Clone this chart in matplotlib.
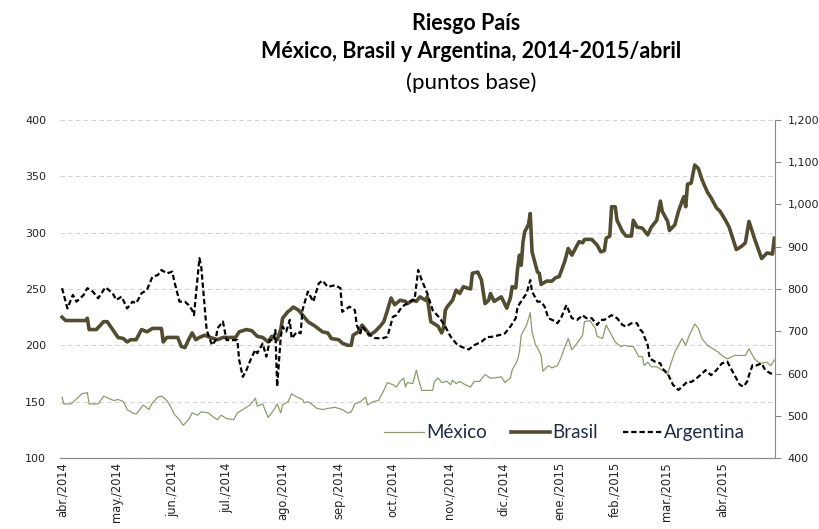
import matplotlib.pyplot as plt
import matplotlib.ticker as mticker
import pandas as pd

# Riesgo país (EMBI), puntos base. Fechas como días desde el 1-abr-2014
inicio = pd.Timestamp("2014-04-01")

dias_mexico = [0, 1, 5, 9, 11, 14, 15, 20, 23, 27,
               29, 31, 34, 36, 39, 41, 43, 45, 48, 50,
               53, 55, 58, 61, 62, 65, 67, 70, 72, 75,
               77, 81, 84, 86, 88, 91, 95, 97, 101, 104,
               107, 108, 111, 112, 114, 116, 118, 119, 121, 122,
               125, 127, 130, 133, 134, 136, 138, 141, 144, 147,
               151, 155, 158, 160, 162, 165, 168, 169, 172, 175,
               178, 180, 183, 185, 187, 189, 190, 191, 194, 196,
               197, 199, 202, 205, 206, 208, 210, 213, 215, 216,
               218, 220, 223, 226, 228, 231, 234, 237, 239, 243,
               245, 248, 249, 252, 253, 254, 257, 259, 260, 262,
               263, 265, 266, 269, 271, 274, 276, 278, 280, 282,
               285, 288, 289, 292, 295, 296, 299, 301, 303, 306,
               309, 311, 314, 316, 319, 321, 322, 324, 326, 329,
               332, 335, 336, 339, 343, 345, 347, 350, 352, 354,
               357, 360, 363, 365, 368, 372, 378, 380, 383, 386,
               390, 392, 394]
mexico = [154, 148, 148, 154, 157, 158, 148, 148, 155, 152,
          151, 152, 150, 143, 140, 139, 143, 147, 143, 149,
          154, 155, 151, 143, 139, 134, 129, 134, 140, 138,
          141, 140, 136, 134, 138, 135, 134, 140, 144, 147,
          153, 146, 148, 144, 136, 140, 145, 148, 140, 147,
          150, 157, 154, 152, 149, 150, 148, 144, 143, 144,
          145, 143, 140, 141, 148, 150, 154, 147, 150, 151,
          160, 167, 165, 163, 168, 171, 163, 167, 166, 178,
          171, 160, 160, 160, 168, 171, 167, 168, 165, 169,
          166, 168, 165, 163, 168, 168, 174, 171, 171, 172,
          167, 171, 178, 187, 194, 209, 218, 229, 212, 200,
          198, 191, 177, 182, 180, 182, 189, 198, 206, 196,
          202, 209, 221, 222, 215, 208, 206, 218, 212, 203,
          199, 200, 199, 199, 190, 190, 182, 185, 181, 181,
          178, 174, 180, 194, 206, 200, 209, 219, 215, 206,
          200, 197, 194, 191, 188, 191, 191, 197, 188, 184,
          185, 182, 187]

dias_brasil = [0, 2, 7, 13, 14, 15, 19, 23, 25, 28,
               31, 34, 36, 38, 41, 44, 47, 50, 55, 56,
               58, 61, 64, 66, 68, 70, 72, 74, 76, 79,
               82, 86, 89, 93, 96, 98, 102, 105, 108, 111,
               114, 116, 119, 121, 122, 125, 126, 128, 131, 133,
               136, 140, 144, 147, 149, 153, 155, 158, 160, 161,
               164, 166, 169, 170, 173, 176, 178, 180, 182, 184,
               187, 190, 191, 194, 196, 198, 201, 202, 204, 205,
               208, 210, 211, 212, 213, 216, 218, 220, 222, 226,
               227, 230, 232, 234, 236, 237, 239, 243, 246, 248,
               249, 251, 252, 253, 254, 255, 256, 258, 259, 260,
               263, 264, 265, 268, 271, 273, 275, 278, 280, 282,
               285, 286, 288, 289, 293, 296, 298, 300, 301, 303,
               304, 306, 307, 310, 312, 315, 316, 318, 321, 324,
               326, 329, 331, 332, 335, 336, 339, 341, 343, 344,
               345, 346, 348, 350, 352, 354, 357, 359, 362, 364,
               367, 369, 371, 373, 376, 378, 380, 383, 387, 390,
               393, 394]
brasil = [225, 222, 222, 222, 224, 214, 214, 221, 221, 214,
          207, 206, 203, 205, 205, 214, 212, 215, 215, 203,
          207, 207, 207, 199, 198, 205, 211, 205, 207, 209,
          207, 205, 207, 207, 207, 212, 214, 213, 208, 207,
          203, 208, 205, 214, 224, 230, 231, 234, 231, 227,
          221, 217, 212, 211, 206, 205, 202, 200, 200, 209,
          212, 218, 212, 209, 212, 217, 221, 231, 242, 236,
          240, 239, 237, 240, 239, 243, 240, 243, 221, 220,
          217, 211, 215, 231, 234, 240, 249, 246, 252, 250,
          264, 265, 258, 237, 240, 246, 239, 243, 233, 242,
          252, 251, 268, 280, 271, 292, 301, 307, 317, 283,
          265, 264, 254, 257, 257, 260, 261, 274, 286, 280,
          289, 292, 291, 294, 294, 289, 283, 284, 295, 297,
          323, 323, 311, 301, 297, 297, 311, 305, 304, 298,
          305, 311, 328, 319, 310, 302, 307, 319, 328, 332,
          323, 343, 344, 360, 357, 347, 336, 331, 322, 319,
          311, 305, 295, 285, 288, 291, 310, 295, 277, 282,
          281, 295]

dias_argentina = [0, 3, 6, 8, 12, 14, 17, 20, 24, 28,
                  30, 33, 36, 39, 41, 44, 47, 50, 53, 55,
                  58, 61, 62, 65, 68, 70, 72, 73, 76, 77,
                  78, 80, 83, 85, 86, 89, 91, 94, 97, 98,
                  100, 102, 105, 107, 108, 111, 113, 115, 117, 118,
                  119, 121, 122, 124, 126, 127, 130, 132, 133, 136,
                  139, 142, 144, 147, 151, 154, 155, 159, 162, 163,
                  165, 166, 169, 173, 177, 180, 183, 185, 188, 191, 194,
                  195, 197, 199, 202, 205, 209, 212, 215, 218, 221,
                  225, 228, 232, 235, 238, 242, 245, 248, 251, 252,
                  257, 259, 260, 263, 265, 267, 269, 273, 274, 276,
                  279, 282, 285, 288, 290, 293, 296, 298, 300, 304,
                  307, 310, 312, 315, 318, 320, 321, 324, 325, 328,
                  331, 332, 335, 338, 341, 343, 346, 348, 350, 353,
                  356, 357, 359, 362, 365, 368, 369, 372, 375, 377,
                  379, 380, 382, 384, 387, 389, 392, 394]
argentina = [802, 754, 786, 770, 786, 802, 794, 778, 804, 790,
             774, 782, 754, 770, 766, 790, 798, 829, 833, 845,
             837, 841, 820, 770, 770, 762, 750, 738, 873, 853,
             802, 703, 667, 679, 707, 723, 679, 679, 679, 632,
             592, 608, 640, 656, 648, 671, 640, 679, 679, 703,
             569, 687, 711, 699, 727, 683, 699, 695, 750, 794,
             770, 813, 820, 805, 809, 802, 746, 758, 750, 715,
             695, 711, 695, 684, 683, 687, 734, 738, 758, 766, 774,
             774, 845, 821, 790, 750, 731, 711, 687, 671, 663,
             657, 667, 675, 686, 687, 691, 695, 711, 731, 758,
             790, 821, 794, 770, 770, 758, 731, 723, 719, 731,
             762, 731, 727, 738, 731, 731, 715, 727, 727, 738,
             731, 715, 711, 719, 719, 703, 699, 667, 636, 628,
             624, 612, 600, 573, 561, 569, 581, 580, 585, 596,
             608, 604, 596, 608, 624, 628, 620, 596, 573, 569,
             581, 596, 620, 619, 624, 608, 600, 600]

meses = pd.date_range("2014-04-01", "2015-04-01", freq="MS")
etiquetas_meses = ["abr./2014", "may./2014", "jun./2014", "jul./2014",
                   "ago./2014", "sep./2014", "oct./2014", "nov./2014",
                   "dic./2014", "ene./2015", "feb./2015", "mar./2015",
                   "abr./2015"]

fecha_mx = inicio + pd.to_timedelta(dias_mexico, unit="D")
fecha_br = inicio + pd.to_timedelta(dias_brasil, unit="D")
fecha_ar = inicio + pd.to_timedelta(dias_argentina, unit="D")

fig = plt.figure(figsize=(8.19, 5.29), dpi=100)
ax = fig.add_axes([0.0733, 0.1342, 0.873, 0.639])
ax2 = ax.twinx()

l_mx, = ax.plot(fecha_mx, mexico, color="#8c9c6c", lw=0.9, label="México")
l_br, = ax.plot(fecha_br, brasil, color="#524c30", lw=2.6, label="Brasil")
l_ar, = ax2.plot(fecha_ar, argentina, color="black", lw=1.6,
                 linestyle=(0, (2.4, 1.3)), label="Argentina")

ax.set_xlim(inicio - pd.Timedelta(days=1.1), inicio + pd.Timedelta(days=394.4))
ax.set_ylim(100, 400)
ax.set_yticks(range(100, 401, 50))
ax2.set_ylim(400, 1200)
ax2.set_yticks(range(400, 1201, 100))
ax2.yaxis.set_major_formatter(mticker.FuncFormatter(lambda v, p: f"{int(v):,}"))

ax.set_xticks(meses)
ax.set_xticklabels(etiquetas_meses, rotation=90, fontsize=8.3, color="#222222")
ax.tick_params(axis="x", length=0, pad=3)
ax.tick_params(axis="y", length=0, pad=10, labelsize=8, labelcolor="#222222")
ax2.tick_params(axis="y", length=4, width=0.8, color="#888888", pad=5,
                labelsize=8, labelcolor="#222222")

# grid (only on left axis values)
ax.grid(axis="y", linestyle=(0, (4, 3)), color="#d4d4d4", lw=0.8)
ax.set_axisbelow(True)

for a in (ax, ax2):
    a.spines["top"].set_visible(False)
    a.spines["left"].set_visible(False)
    a.spines["right"].set_visible(False)
    a.spines["bottom"].set_color("#8a8a8a")
ax2.spines["right"].set_visible(True)
ax2.spines["right"].set_color("#8a8a8a")

leg = ax.legend(handles=[l_mx, l_br, l_ar], loc="center",
                bbox_to_anchor=(0.706, 0.074), ncol=3, frameon=False,
                prop={"family": "Lato", "size": 13.5}, handlelength=2.1,
                handletextpad=0.12, columnspacing=1.3)
for t in leg.get_texts():
    t.set_color("#1f2a44")

fig.text(0.569, 0.955, "Riesgo País", ha="center", va="center",
         fontsize=15.5, fontweight="bold", family="Lato")
fig.text(0.575, 0.903, "México, Brasil y Argentina, 2014-2015/abril",
         ha="center", va="center", fontsize=15.5, fontweight="bold", family="Lato")
fig.text(0.575, 0.843, "(puntos base)", ha="center", va="center",
         fontsize=16, family="Lato")

fig.savefig("out.png", dpi=100)
